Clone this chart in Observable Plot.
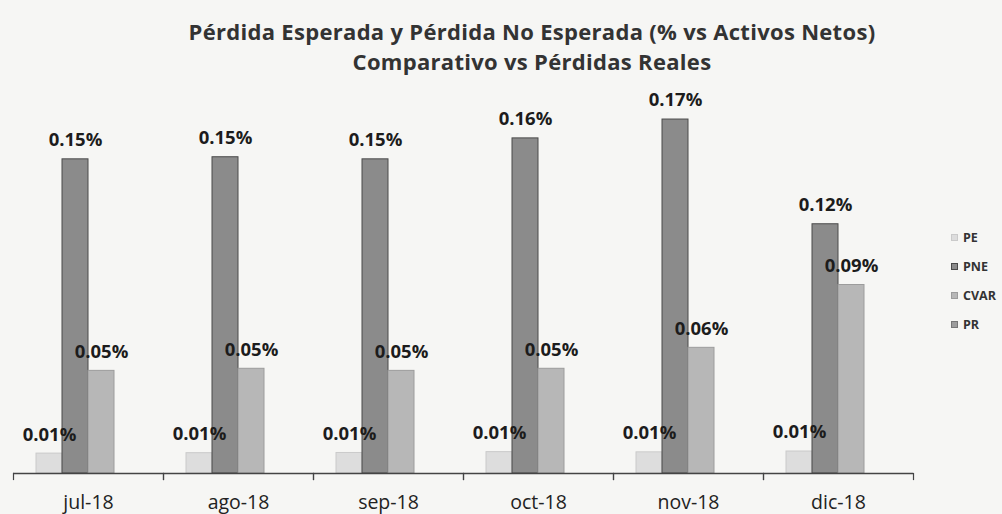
<!DOCTYPE html>
<html>
<head>
<meta charset="utf-8">
<script src="https://cdn.jsdelivr.net/npm/d3@7"></script>
<script src="https://cdn.jsdelivr.net/npm/@observablehq/plot@0.6"></script>
<style>
  html, body { margin: 0; padding: 0; }
  body { width: 1002px; height: 514px; overflow: hidden; position: relative; background: #f6f6f4; font-family: "Open Sans", "DejaVu Sans", sans-serif; }
  .title { position: absolute; left: 32px; width: 1000px; text-align: center; font-weight: bold; font-size: 22px; line-height: 30px; color: #333; letter-spacing: 0.3px; }
  #t1 { top: 16px; }
  #t2 { top: 46px; }
  #chart { position: absolute; left: 0; top: 80px; }
  #legend { position: absolute; left: 951px; top: 223px; font-size: 12.5px; font-weight: bold; color: #333; }
  #legend .row { height: 29px; display: flex; align-items: center; }
  #legend .sw { width: 7px; height: 7px; margin-right: 5px; box-sizing: border-box; }
</style>
</head>
<body>
<div class="title" id="t1">Pérdida Esperada y Pérdida No Esperada (% vs Activos Netos)</div>
<div class="title" id="t2">Comparativo vs Pérdidas Reales</div>
<div id="chart"></div>
<div id="legend"></div>
<script>
const months = ["jul-18", "ago-18", "sep-18", "oct-18", "nov-18", "dic-18"];
const series = ["PE", "PNE", "CVAR", "PR"];
// values in percent of net assets
const pe   = [0.0095, 0.0097, 0.0098, 0.0102, 0.0101, 0.0105];
const pne  = [0.150, 0.151, 0.150, 0.160, 0.169, 0.119];
const cvar = [0.049, 0.050, 0.049, 0.050, 0.060, 0.090];
const pr   = [0, 0, 0, 0, 0, 0];
const fills   = ["#dddddd", "#8b8b8b", "#b7b7b7", "#9d9d9d"];
const strokes = ["#cacaca", "#4a4a4a", "#9c9c9c", "#777777"];

const valuesBySeries = [pe, pne, cvar, pr];
const data = months.flatMap((m, i) =>
  series.map((s, j) => ({month: m, series: s, value: valuesBySeries[j][i]}))
);

const chart = Plot.plot({
  width: 1002,
  height: 434,
  marginLeft: 13,
  marginRight: 89,
  marginTop: 16,
  marginBottom: 41,
  style: {background: "transparent", fontFamily: "Open Sans, sans-serif", fontSize: "18px"},
  fx: {domain: months, padding: 0, label: null, axis: null},
  x: {domain: series, paddingInner: 0, paddingOuter: 0.78, axis: null},
  y: {domain: [0, 0.18], axis: null},
  marks: [
    ...series.map((s, j) => Plot.barY(data.filter(d => d.series === s), {
      fx: "month", x: "series", y: "value",
      fill: fills[j], stroke: strokes[j], strokeWidth: 1
    })),
    Plot.ruleY([0], {stroke: "#444", strokeWidth: 1.5}),
    Plot.frame({anchor: "left", insetTop: 377, insetBottom: -6, stroke: "#444", strokeWidth: 1.2}),
    Plot.frame({anchor: "right", insetTop: 377, insetBottom: -6, stroke: "#444", strokeWidth: 1.2}),
    Plot.text(data.filter(d => d.value > 0), {
      fx: "month", x: "series", y: "value",
      text: d => d.value.toFixed(2) + "%",
      dy: -19, fontSize: 18.5, fontWeight: "bold", fill: "#1c1c1c"
    }),
    Plot.axisFx({anchor: "bottom", tickSize: 0, tickPadding: 22, fontSize: 19.5, fill: "#222", label: null})
  ]
});
document.getElementById("chart").appendChild(chart);

const legend = document.getElementById("legend");
series.forEach((s, j) => {
  const row = document.createElement("div");
  row.className = "row";
  const sw = document.createElement("span");
  sw.className = "sw";
  sw.style.background = fills[j];
  sw.style.border = "1px solid " + strokes[j];
  const lab = document.createElement("span");
  lab.textContent = s;
  row.appendChild(sw);
  row.appendChild(lab);
  legend.appendChild(row);
});
</script>
</body>
</html>
